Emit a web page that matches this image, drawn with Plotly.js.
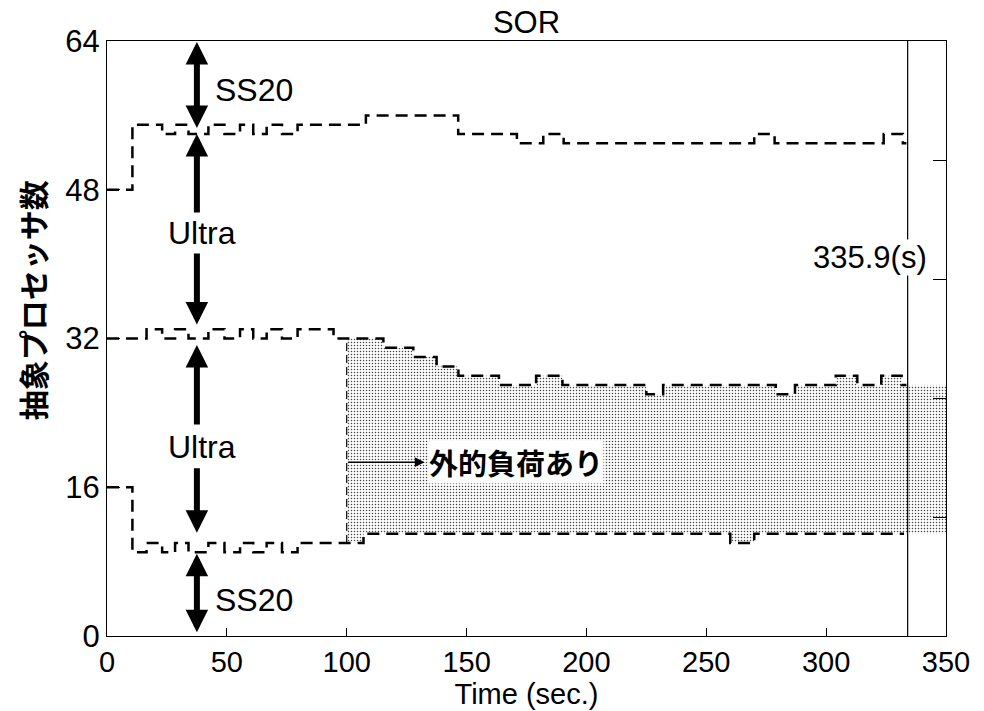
<!DOCTYPE html>
<html><head><meta charset="utf-8">
<script src="https://cdn.plot.ly/plotly-3.0.1.min.js"></script>
<style>body{margin:0;background:#fff}</style>
</head><body><div id="chart" style="width:984px;height:711px"></div>
<script>
// ---- data ----
const topT = [0, 10.6, 23, 28.4, 34, 42.3, 49, 55.5, 61, 66.6, 73, 79.5, 108, 146.5, 171, 182, 190.5, 270, 278.5, 324, 332, 333.5];
const topV = [48, 55, 54, 55, 54, 55, 54, 55, 54, 55, 54, 55, 56, 54, 53, 54, 53, 54, 53, 54, 53, 53];
const midT = [0, 16.5, 23, 28.4, 34, 42.3, 49, 55.5, 61, 66.6, 73, 79.5, 94.5, 115.3, 127.8, 137.5, 146.6, 163.5, 179, 190, 225, 232, 279, 287, 304, 313, 323, 331.5, 333.5];
const midV = [32, 33, 32, 33, 32, 33, 32, 33, 32, 33, 32, 33, 32, 31, 30, 29, 28, 27, 28, 27, 26, 27, 26, 27, 28, 27, 28, 27, 27];
const lowT = [0, 10.6, 16.5, 23, 28.4, 34, 42.3, 49, 55.5, 61, 66.6, 73, 79.5, 107, 260, 270, 332.5];
const lowV = [16, 9, 10, 9, 10, 9, 10, 9, 10, 9, 10, 9, 10, 11, 10, 11, 11];

const loadStart = 100, loadEnd = 350;
const loadTailTop = 27, loadTailBottom = 11;
const loadLabel = '外的負荷あり';
const loadLabelY = 18.7, loadArrowEnd = 132.5, loadLabelT = 134;

const endTime = 334;
const endLabel = '335.9(s)';
const endLabelT = 294, endLabelY = 40.7;

const xTicks = [0, 50, 100, 150, 200, 250, 300, 350];
const yTicks = [0, 16, 32, 48, 64];

const arrowT = 37.5;
const arrowTip    = [63.9, 54.0, 33.5, 31.3, 11.1, 0.4];
const arrowTail   = [54.6, 45.5, 41.2, 22.7, 18.1, 8.9];
const arrowDouble = [true, false, false, false, false, true];

const regionLabels = ['SS20', 'Ultra', 'Ultra', 'SS20'];
const regionLabelT = [44.2, 39.6, 39.6, 44.2];
const regionLabelV = [58.7, 43.3, 20.3, 3.9];
const regionAnchor = ['left', 'center', 'center', 'left'];

// ---- helpers ----
function clipSteps(ts, vs, t0, t1, tail) {
  const T = ts.concat([t1]);
  const V = vs.slice(0, -1).concat([tail, tail]);
  const x = [], y = [];
  let idx = 0;
  while (idx < T.length - 1 && T[idx + 1] <= t0) idx++;
  x.push(t0); y.push(V[idx]);
  for (let i = idx + 1; i < T.length - 1; i++) {
    x.push(T[i]); y.push(V[i - 1]);
    x.push(T[i]); y.push(V[i]);
  }
  x.push(t1); y.push(V[T.length - 2]);
  return {x, y};
}

const FONT = '"Liberation Sans", Arial, Helvetica, sans-serif';
const CJK = '"Noto Sans CJK JP", sans-serif';
const FS = 31;

const topShade = clipSteps(midT, midV, loadStart, loadEnd, loadTailTop);
const botShade = clipSteps(lowT, lowV, loadStart, loadEnd, loadTailBottom);
const polyX = topShade.x.concat(botShade.x.slice().reverse());
const polyY = topShade.y.concat(botShade.y.slice().reverse());

const dashed = {color: '#000', width: 2.5, dash: '12px,7px', shape: 'hv'};

const traces = [
  {x: polyX, y: polyY, type: 'scatter', mode: 'lines', fill: 'toself',
   line: {width: 0, color: 'rgba(0,0,0,0)'}, fillcolor: 'rgba(0,0,0,0)',
   fillpattern: {shape: '.', fgcolor: '#444', bgcolor: '#fff', size: 3, solidity: 0.2},
   hoverinfo: 'skip'},
  {x: [loadStart, loadStart], y: [botShade.y[0], topShade.y[0]], type: 'scatter', mode: 'lines',
   line: {color: '#000', width: 1.2, dash: '8px,4px'}},
  {x: topT, y: topV, type: 'scatter', mode: 'lines', line: dashed},
  {x: midT, y: midV, type: 'scatter', mode: 'lines', line: dashed},
  {x: lowT, y: lowV, type: 'scatter', mode: 'lines', line: dashed},
  {x: [endTime, endTime], y: [yTicks[0], yTicks[yTicks.length - 1]], type: 'scatter', mode: 'lines',
   line: {color: '#000', width: 1.2}},
  {x: [0], y: [0], yaxis: 'y2', type: 'scatter', mode: 'none', hoverinfo: 'skip'}
];

const annotations = [];
for (let i = 0; i < arrowTip.length; i++) {
  annotations.push({
    x: arrowT, y: arrowTip[i], ax: arrowT, ay: arrowTail[i],
    xref: 'x', yref: 'y', axref: 'x', ayref: 'y',
    text: '', showarrow: true, arrowhead: 2, arrowsize: 0.75, arrowwidth: 6,
    startarrowhead: 2, startarrowsize: 0.75,
    arrowside: arrowDouble[i] ? 'end+start' : 'end',
    arrowcolor: '#000', standoff: 0, startstandoff: 0, font: {size: 1}, borderpad: 0
  });
}
for (let i = 0; i < regionLabels.length; i++) {
  annotations.push({
    x: regionLabelT[i], y: regionLabelV[i], xref: 'x', yref: 'y',
    text: regionLabels[i], showarrow: false, xanchor: regionAnchor[i], yanchor: 'middle',
    font: {family: FONT, size: FS + 1, color: '#000'}
  });
}
annotations.push({
  x: loadArrowEnd, y: loadLabelY, ax: loadStart, ay: loadLabelY,
  xref: 'x', yref: 'y', axref: 'x', ayref: 'y', text: '', showarrow: true,
  arrowhead: 2, arrowsize: 1.3, arrowwidth: 1.5, arrowcolor: '#000', standoff: 0, font: {size: 1}
});
annotations.push({
  x: loadLabelT, y: loadLabelY, xref: 'x', yref: 'y', text: '<b>' + loadLabel + '</b>',
  showarrow: false, xanchor: 'left', yanchor: 'middle', bgcolor: '#fff', borderpad: 0,
  font: {family: CJK, size: 29, color: '#000'}
});
annotations.push({
  x: endLabelT, y: endLabelY, xref: 'x', yref: 'y', text: endLabel,
  showarrow: false, xanchor: 'left', yanchor: 'middle', bgcolor: '#fff', borderpad: 0,
  font: {family: FONT, size: FS, color: '#000'}
});
annotations.push({
  x: -0.09, y: 0.565, xref: 'paper', yref: 'paper', text: '<b>抽象プロセッサ数</b>',
  textangle: -90, showarrow: false, xanchor: 'center', yanchor: 'middle',
  font: {family: CJK, size: 30, color: '#000'}
});

const layout = {
  width: 984, height: 711,
  margin: {l: 107, r: 38, t: 41, b: 75},
  paper_bgcolor: '#fff', plot_bgcolor: '#fff',
  showlegend: false,
  title: {text: 'SOR', x: 0.5, xref: 'paper', y: 0.969, yanchor: 'middle',
          font: {family: FONT, size: FS, color: '#000'}},
  xaxis: {range: [0, 350], tickvals: xTicks, ticktext: xTicks.map(String),
          ticks: 'inside', ticklen: 8, tickwidth: 1, tickcolor: '#000',
          showline: true, linecolor: '#000', linewidth: 1, mirror: true,
          showgrid: false, zeroline: false,
          tickfont: {family: FONT, size: 29, color: '#000'},
          title: {text: 'Time (sec.)', font: {family: FONT, size: 29, color: '#000'}, standoff: 3}},
  yaxis: {range: [0, 64], tickvals: yTicks, ticktext: yTicks.map(String),
          ticks: 'inside', ticklen: 13, tickwidth: 1, tickcolor: '#000',
          showline: true, linecolor: '#000', linewidth: 1, mirror: true,
          showgrid: false, zeroline: false,
          tickfont: {family: FONT, size: FS, color: '#000'}},
  yaxis2: {overlaying: 'y', side: 'right', range: [0, 5], dtick: 1, tick0: 0,
           ticks: 'inside', ticklen: 13, tickwidth: 1, tickcolor: '#000',
           showticklabels: false, showline: true, linecolor: '#000', linewidth: 1,
           showgrid: false, zeroline: false},
  annotations: annotations
};

Plotly.newPlot('chart', traces, layout, {staticPlot: true});
</script>
</body></html>
